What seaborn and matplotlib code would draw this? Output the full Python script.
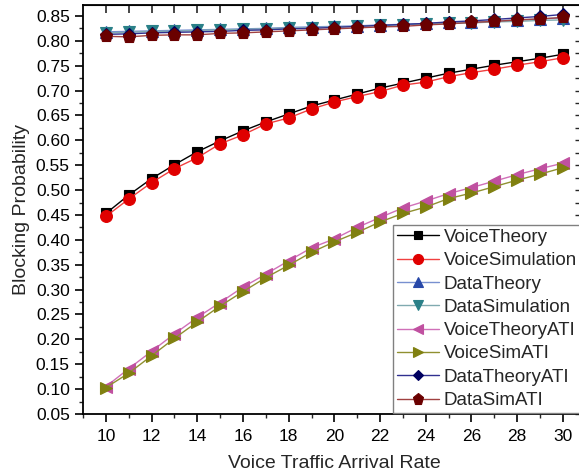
import matplotlib
matplotlib.use("Agg")
import matplotlib.pyplot as plt
from matplotlib.ticker import MultipleLocator
import seaborn as sns
import pandas as pd

x_rate = list(range(10, 31))

voice_theory = [0.453, 0.490, 0.523, 0.551, 0.577, 0.599, 0.619, 0.637, 0.653, 0.669, 0.681,
                0.693, 0.705, 0.715, 0.725, 0.735, 0.743, 0.751, 0.758, 0.765, 0.773]
voice_sim = [0.447, 0.482, 0.515, 0.543, 0.565, 0.593, 0.611, 0.633, 0.645, 0.663, 0.677,
             0.688, 0.698, 0.711, 0.717, 0.728, 0.736, 0.743, 0.751, 0.758, 0.766]
data_theory = [0.818, 0.819, 0.820, 0.821, 0.822, 0.823, 0.824, 0.825, 0.827, 0.828, 0.829,
               0.830, 0.832, 0.833, 0.835, 0.837, 0.838, 0.840, 0.842, 0.844, 0.846]
data_sim = [0.816, 0.817, 0.819, 0.819, 0.821, 0.822, 0.823, 0.824, 0.826, 0.826, 0.828,
            0.829, 0.831, 0.832, 0.834, 0.835, 0.836, 0.838, 0.839, 0.841, 0.842]
voice_theory_ati = [0.105, 0.141, 0.176, 0.211, 0.244, 0.274, 0.305, 0.331, 0.358, 0.384, 0.402,
                    0.425, 0.445, 0.464, 0.478, 0.493, 0.505, 0.518, 0.531, 0.543, 0.554]
voice_sim_ati = [0.103, 0.132, 0.167, 0.202, 0.235, 0.267, 0.296, 0.324, 0.349, 0.375, 0.396,
                 0.415, 0.436, 0.453, 0.466, 0.483, 0.494, 0.507, 0.520, 0.532, 0.545]
data_theory_ati = [0.813, 0.814, 0.816, 0.817, 0.818, 0.819, 0.821, 0.822, 0.824, 0.825, 0.827,
                   0.829, 0.831, 0.833, 0.835, 0.838, 0.840, 0.843, 0.846, 0.849, 0.853]
data_sim_ati = [0.809, 0.808, 0.811, 0.812, 0.812, 0.815, 0.816, 0.818, 0.820, 0.822, 0.824,
                0.826, 0.828, 0.829, 0.832, 0.834, 0.837, 0.839, 0.842, 0.844, 0.847]

series_names = ["VoiceTheory", "VoiceSimulation", "DataTheory", "DataSimulation",
                "VoiceTheoryATI", "VoiceSimATI", "DataTheoryATI", "DataSimATI"]
series_values = [voice_theory, voice_sim, data_theory, data_sim,
                 voice_theory_ati, voice_sim_ati, data_theory_ati, data_sim_ati]

styles = {
    "VoiceTheory": dict(marker="s", mc="#000000", lc="#000000", ms=7.5),
    "VoiceSimulation": dict(marker="o", mc="#e00000", lc="#f04040", ms=8.5),
    "DataTheory": dict(marker="^", mc="#2848a8", lc="#7890d0", ms=8.5),
    "DataSimulation": dict(marker="v", mc="#2a8088", lc="#80aab0", ms=8.5),
    "VoiceTheoryATI": dict(marker="<", mc="#c050a0", lc="#d070b8", ms=8.5),
    "VoiceSimATI": dict(marker=">", mc="#808010", lc="#909030", ms=8.5),
    "DataTheoryATI": dict(marker="D", mc="#000060", lc="#303090", ms=6.5),
    "DataSimATI": dict(marker="p", mc="#6a0000", lc="#a04040", ms=9.5),
}

rows = []
for name, vals in zip(series_names, series_values):
    for xv, yv in zip(x_rate, vals):
        rows.append({"rate": xv, "prob": yv, "series": name})
df = pd.DataFrame(rows)

sns.set_style("ticks")
plt.rcParams["font.family"] = ["Liberation Sans", "DejaVu Sans"]

fig = plt.figure(figsize=(5.79, 4.76), dpi=100)
ax = fig.add_axes([83 / 579, 1 - 414 / 476, 502.7 / 579, 409 / 476])

for name in series_names:
    st = styles[name]
    sub = df[df["series"] == name]
    sns.lineplot(data=sub, x="rate", y="prob", ax=ax, color=st["lc"], linewidth=1.0,
                 marker=st["marker"], markersize=st["ms"], markerfacecolor=st["mc"],
                 markeredgecolor=st["mc"], markeredgewidth=0.8, label=name)

ax.set_xlim(9, 31)
ax.set_ylim(0.05, 0.872)
ax.xaxis.set_major_locator(MultipleLocator(2))
ax.xaxis.set_minor_locator(MultipleLocator(1))
ax.yaxis.set_minor_locator(MultipleLocator(0.025))
ax.set_yticks([0.05 + 0.05 * i for i in range(17)])
ax.set_yticklabels([f"{0.05 + 0.05 * i:.2f}" for i in range(17)])

ax.tick_params(axis="both", which="major", direction="out", length=6, width=1.2,
               labelsize=12.5, colors="black", top=False, right=False)
ax.tick_params(axis="x", which="major", pad=5)
ax.tick_params(axis="both", which="minor", direction="out", length=3, width=1.0,
               top=False, right=False)
for sp in ax.spines.values():
    sp.set_linewidth(1.3)
    sp.set_color("black")

ax_top = ax.secondary_xaxis("top")
ax_top.set_xticks(list(range(10, 31)))
ax_top.tick_params(direction="in", length=6, width=1.2, labeltop=False)
ax_top.set_xticklabels([])
ax_right = ax.secondary_yaxis("right")
ax_right.set_yticks([0.05 + 0.025 * i for i in range(33)])
ax_right.tick_params(direction="in", length=8, width=1.0)
ax_right.set_yticklabels([])

ax.set_xlabel("Voice Traffic Arrival Rate", fontsize=14, labelpad=8)
ax.set_ylabel("Blocking Probability", fontsize=14, labelpad=4)

leg = ax.legend(loc="upper left", bbox_to_anchor=(0.6167, 0.462), frameon=True,
                fancybox=False, fontsize=13.5, handlelength=2.25, labelspacing=0.33,
                borderpad=0.2, handletextpad=0.25, borderaxespad=0.0, markerscale=0.85)
leg.get_frame().set_edgecolor("#808080")
leg.get_frame().set_linewidth(1.0)
leg.get_frame().set_alpha(1.0)

fig.savefig("out.png", dpi=100, facecolor="white")
